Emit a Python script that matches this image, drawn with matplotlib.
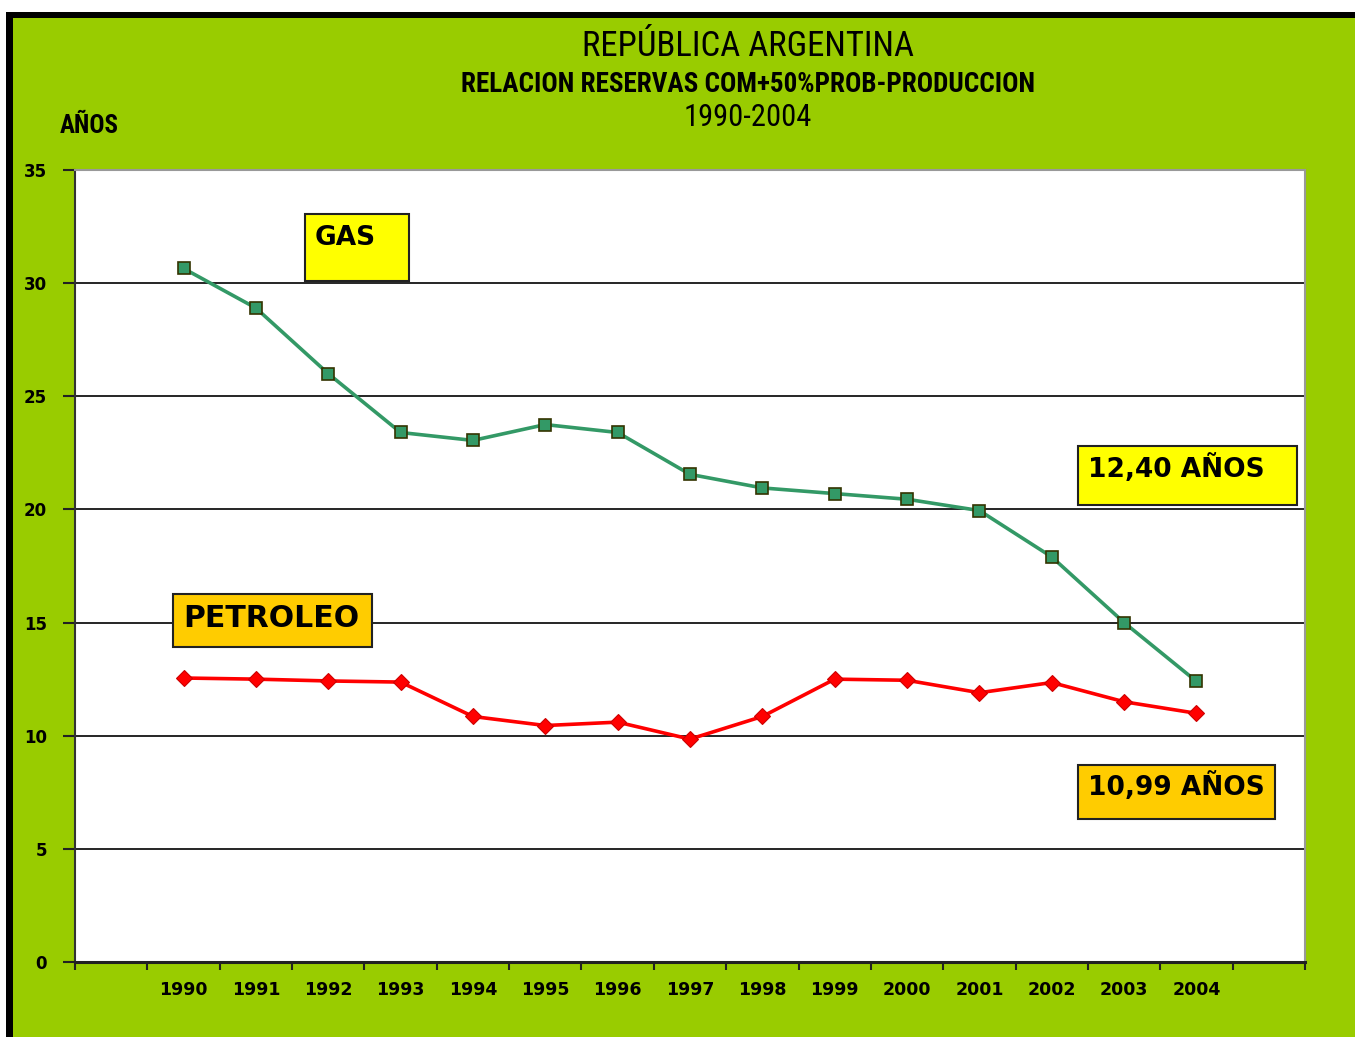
import matplotlib
matplotlib.use("Agg")
import matplotlib.pyplot as plt
from matplotlib.patches import Rectangle

# data
years = ["1990", "1991", "1992", "1993", "1994", "1995", "1996", "1997",
         "1998", "1999", "2000", "2001", "2002", "2003", "2004"]
gas = [30.65, 28.9, 26.0, 23.4, 23.05, 23.75, 23.4, 21.55,
       20.95, 20.7, 20.45, 19.95, 17.9, 15.0, 12.4]
petroleo = [12.55, 12.5, 12.42, 12.37, 10.85, 10.45, 10.6, 9.85,
            10.85, 12.5, 12.45, 11.9, 12.35, 11.5, 10.99]
y_ticks = [0, 5, 10, 15, 20, 25, 30, 35]

GREEN_BG = "#99CC00"
W, H = 1355, 1037

fig = plt.figure(figsize=(W / 100, H / 100), dpi=100, facecolor=GREEN_BG)

# white margin + black frame at top and left
fig.patches.append(Rectangle((0, 1 - 12 / H), 1, 12 / H, transform=fig.transFigure,
                             facecolor="white", edgecolor="none", zorder=0))
fig.patches.append(Rectangle((0, 0), 6 / W, 1, transform=fig.transFigure,
                             facecolor="white", edgecolor="none", zorder=0))
fig.patches.append(Rectangle((6 / W, 1 - 18 / H), 1, 6 / H, transform=fig.transFigure,
                             facecolor="black", edgecolor="none", zorder=1))
fig.patches.append(Rectangle((6 / W, 0), 7 / W, 1 - 12 / H, transform=fig.transFigure,
                             facecolor="black", edgecolor="none", zorder=1))

ax = fig.add_axes([75 / W, (H - 962) / H, 1230 / W, 792 / H])
ax.set_facecolor("white")

x = [i + 1.5 for i in range(len(years))]
ax.plot(x, gas, color="#339966", lw=2.6, marker="s", ms=9,
        markerfacecolor="#339966", markeredgecolor="#333300", markeredgewidth=1.2, zorder=4)
ax.plot(x, petroleo, color="#FF0000", lw=2.6, marker="D", ms=8,
        markerfacecolor="#FF0000", markeredgecolor="#CC0000", markeredgewidth=0.8, zorder=4)

ax.set_xlim(0, len(years) + 2)
ax.set_ylim(0, 35)

narrow = ["DejaVu Sans Condensed", "Roboto Condensed", "DejaVu Sans"]

ax.set_yticks(y_ticks)
ax.set_yticklabels([str(v) for v in y_ticks], fontsize=12, fontweight="bold",
                   family="DejaVu Sans")
for v in y_ticks[1:-1]:
    ax.axhline(v, color="black", lw=1.2, zorder=1)

ax.set_xticks(range(len(years) + 3))
ax.set_xticklabels([])
ax.set_xticks(x, minor=True)
ax.set_xticklabels(years, minor=True, fontsize=12.5, fontweight="heavy", family="DejaVu Sans")
ax.tick_params(axis="x", which="minor", length=0, pad=14)
ax.tick_params(axis="x", which="major", length=6, width=1.5, direction="out", color="#222222")
ax.tick_params(axis="y", length=9, width=1.5, direction="out", color="#222222", pad=11)

for side in ["top", "right"]:
    ax.spines[side].set_color("#999999")
    ax.spines[side].set_linewidth(1.5)
ax.spines["left"].set_color("#333333")
ax.spines["left"].set_linewidth(1.5)
ax.spines["bottom"].set_color("#222222")
ax.spines["bottom"].set_linewidth(2.2)

# titles
fig.text(748 / W, 1 - 46 / H, "REPÚBLICA ARGENTINA", ha="center", va="center",
         fontsize=25, family=narrow)
fig.text(748 / W, 1 - 84 / H, "RELACION RESERVAS COM+50%PROB-PRODUCCION", ha="center",
         va="center", fontsize=19.5, fontweight="bold", family=narrow)
fig.text(748 / W, 1 - 118 / H, "1990-2004", ha="center", va="center",
         fontsize=22, family=narrow)
fig.text(60 / W, 1 - 126 / H, "AÑOS", ha="left", va="center",
         fontsize=18, fontweight="bold", family=narrow)


def label_box(x0, y0, x1, y1, text, color, ty, size=19):
    ax.add_patch(Rectangle((x0, y0), x1 - x0, y1 - y0, transform=ax.transAxes,
                           facecolor=color, edgecolor="#222222", lw=1.5, zorder=5,
                           clip_on=False))
    ax.text(x0 + 0.008, ty, text, transform=ax.transAxes, ha="left", va="center",
            fontsize=size, fontweight="bold", family="DejaVu Sans", zorder=6)


label_box(0.187, 0.860, 0.2715, 0.944, "GAS", "#FFFF00", 0.914)
label_box(0.8154, 0.577, 0.9935, 0.6515, "12,40 AÑOS", "#FFFF00", 0.6237)
label_box(0.0797, 0.3977, 0.2415, 0.4646, "PETROLEO", "#FFCC00", 0.4343, size=21.5)
label_box(0.8154, 0.1806, 0.9756, 0.2487, "10,99 AÑOS", "#FFCC00", 0.2210)

fig.savefig("out.png", dpi=100, facecolor=fig.get_facecolor())
